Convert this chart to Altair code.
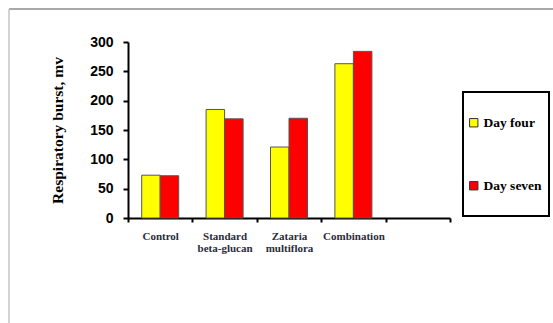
import altair as alt
import pandas as pd

categories = ["Control", "Standard|beta-glucan", "Zataria|multiflora", "Combination"]
slot_domain = categories + [" "]
series = ["Day four", "Day seven"]
day_four = [73, 185, 121, 263]
day_seven = [72, 169, 170, 284]
y_ticks = [0, 50, 100, 150, 200, 250, 300]
colors = ["#FFFF00", "#FF0000"]

rows = []
for c, a, b in zip(categories, day_four, day_seven):
    rows.append({"cat": c, "series": series[0], "value": a})
    rows.append({"cat": c, "series": series[1], "value": b})
df = pd.DataFrame(rows)

bars = alt.Chart(df).mark_bar(stroke="#555555", strokeWidth=1).encode(
    x=alt.X("cat:N", scale=alt.Scale(domain=slot_domain, paddingInner=0, paddingOuter=0),
            sort=slot_domain,
            axis=alt.Axis(title=None, tickBand="extent", labelAngle=0,
                          labelExpr="split(datum.label, '|')",
                          labelFont="Liberation Serif", labelFontWeight="bold", labelFontSize=11,
                          labelColor="#2b2b3a", labelLineHeight=12, labelBaseline="top",
                          labelPadding=8, tickSize=4, tickColor="black", tickWidth=2,
                          domainColor="black", domainWidth=2)),
    xOffset=alt.XOffset("series:N", scale=alt.Scale(domain=series, paddingInner=0, paddingOuter=0.74)),
    y=alt.Y("value:Q", scale=alt.Scale(domain=[0, 300], nice=False),
            axis=alt.Axis(title="Respiratory burst, mv", values=y_ticks, grid=False,
                          labelFont="Liberation Sans", labelFontWeight="bold", labelFontSize=14,
                          labelColor="black", labelPadding=10, tickSize=5, tickColor="black",
                          tickWidth=2, domainColor="black", domainWidth=2,
                          titleFont="Liberation Serif", titleFontWeight="bold", titleFontSize=15.5,
                          titleColor="black", titlePadding=24)),
    color=alt.Color("series:N", scale=alt.Scale(domain=series, range=colors),
                    legend=alt.Legend(title=None, orient="none", legendX=339, legendY=74,
                                      labelFont="Liberation Serif", labelFontWeight="bold",
                                      labelFontSize=13.5, labelColor="black",
                                      symbolType="square", symbolSize=70, symbolStrokeColor="#333333",
                                      symbolStrokeWidth=1, symbolOffset=0, labelOffset=3,
                                      padding=0, rowPadding=48)),
)

one = alt.Data(values=[{}])
frame_top = alt.Chart(one).mark_rule(color="#8c8c8c", strokeWidth=1.5).encode(
    x=alt.value(-119), x2=alt.value(425), y=alt.value(-33))
frame_left = alt.Chart(one).mark_rule(color="#c4c4c4", strokeWidth=1.5).encode(
    x=alt.value(-119), y=alt.value(-33), y2=alt.value(281))
legend_box = alt.Chart(one).mark_rect(fill="white", stroke="black", strokeWidth=2).encode(
    x=alt.value(335), x2=alt.value(421), y=alt.value(50), y2=alt.value(174))

chart = alt.layer(frame_top, frame_left, legend_box, bars).properties(
    width=322, height=176,
    autosize=alt.AutoSizeParams(type="none"),
    padding={"left": 128, "top": 42, "right": 103, "bottom": 105},
    background="white",
).configure_view(stroke=None)

chart.save("out.html", embed_options={"renderer": "svg", "actions": False})
